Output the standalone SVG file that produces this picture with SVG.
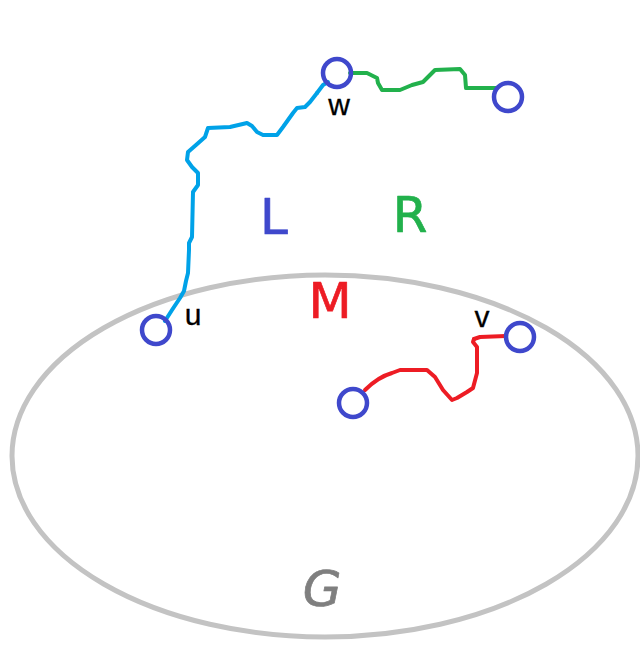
<svg xmlns="http://www.w3.org/2000/svg" width="640" height="652" viewBox="0 0 640 652">
  <style>
    .node { fill: none; stroke: #3f48cc; stroke-width: 4.5; }
    .walk { fill: none; stroke-width: 4; stroke-linejoin: round; stroke-linecap: round; }
    .tag { font-family: "Liberation Sans", Arial, sans-serif; font-size: 30px; fill: #000; stroke: #000; stroke-width: 0.3; text-anchor: middle; }
    .big { font-family: "DejaVu Sans", "Liberation Sans", sans-serif; font-size: 50px; text-anchor: middle; stroke-width: 0.7; stroke-linejoin: round; }
  </style>
  <rect width="640" height="652" fill="#fff"/>

  <!-- region G -->
  <g id="region-G">
    <ellipse cx="325" cy="456" rx="313" ry="181" fill="none" stroke="#c3c3c3" stroke-width="5"/>
    <text class="big" x="322" y="606" fill="#7f7f7f" stroke="#7f7f7f" font-style="italic" font-size="48">G</text>
  </g>

  <!-- paths between vertices -->
  <g id="connectors">
    <path class="walk" stroke="#00a2e8" d="M165,321 L172,310 L180,298 L184,291 L186,281 L188,273 L189,250 L189,243 L192,237 L193,192 L198,185 L198,173 L192,167 L187,160 L188,152 L196,145 L205,137 L208,128 L230,127 L247,123 L252,126 L257,132 L263,135 L277,135 L283,127 L293,113 L297,108 L305,107 L310,102 L317,93"/>
    <path class="walk" stroke="#00a2e8" stroke-width="6" d="M317,93 L323,85 L328,82"/>
    <path class="walk" stroke="#22b14c" d="M350,73 L367,73 L377,78 L378,83 L382,90 L400,90 L412,85 L423,82 L435,70 L460,69 L465,75 L466,88 L496,88"/>
    <path class="walk" stroke="#ed1c24" d="M365,390 Q378,377 392,373 L400,370 L427,370 L435,377 L443,390 L452,400 L457,398 L467,392 L473,388 L477,373 L477,347 L473,342 L474,339"/>
    <path class="walk" stroke="#ed1c24" stroke-width="6" d="M474,339 L480,337 L506,336"/>
  </g>

  <!-- vertices -->
  <g id="node-w">
    <circle class="node" cx="337" cy="73" r="14"/>
    <text class="tag" x="339" y="115">w</text>
  </g>
  <g id="node-r">
    <circle class="node" cx="508" cy="97" r="14"/>
  </g>
  <g id="node-u">
    <circle class="node" cx="156" cy="330" r="14"/>
    <text class="tag" x="193" y="325">u</text>
  </g>
  <g id="node-v">
    <circle class="node" cx="520" cy="337" r="14"/>
    <text class="tag" x="482" y="327">v</text>
  </g>
  <g id="node-m">
    <circle class="node" cx="353" cy="403" r="14"/>
  </g>

  <!-- part labels -->
  <g id="label-L"><text class="big" x="274" y="234" fill="#3f48cc" stroke="#3f48cc">L</text></g>
  <g id="label-R"><text class="big" x="410" y="232" fill="#22b14c" stroke="#22b14c">R</text></g>
  <g id="label-M"><text class="big" x="330" y="318" fill="#ed1c24" stroke="#ed1c24" font-size="52">M</text></g>
</svg>
